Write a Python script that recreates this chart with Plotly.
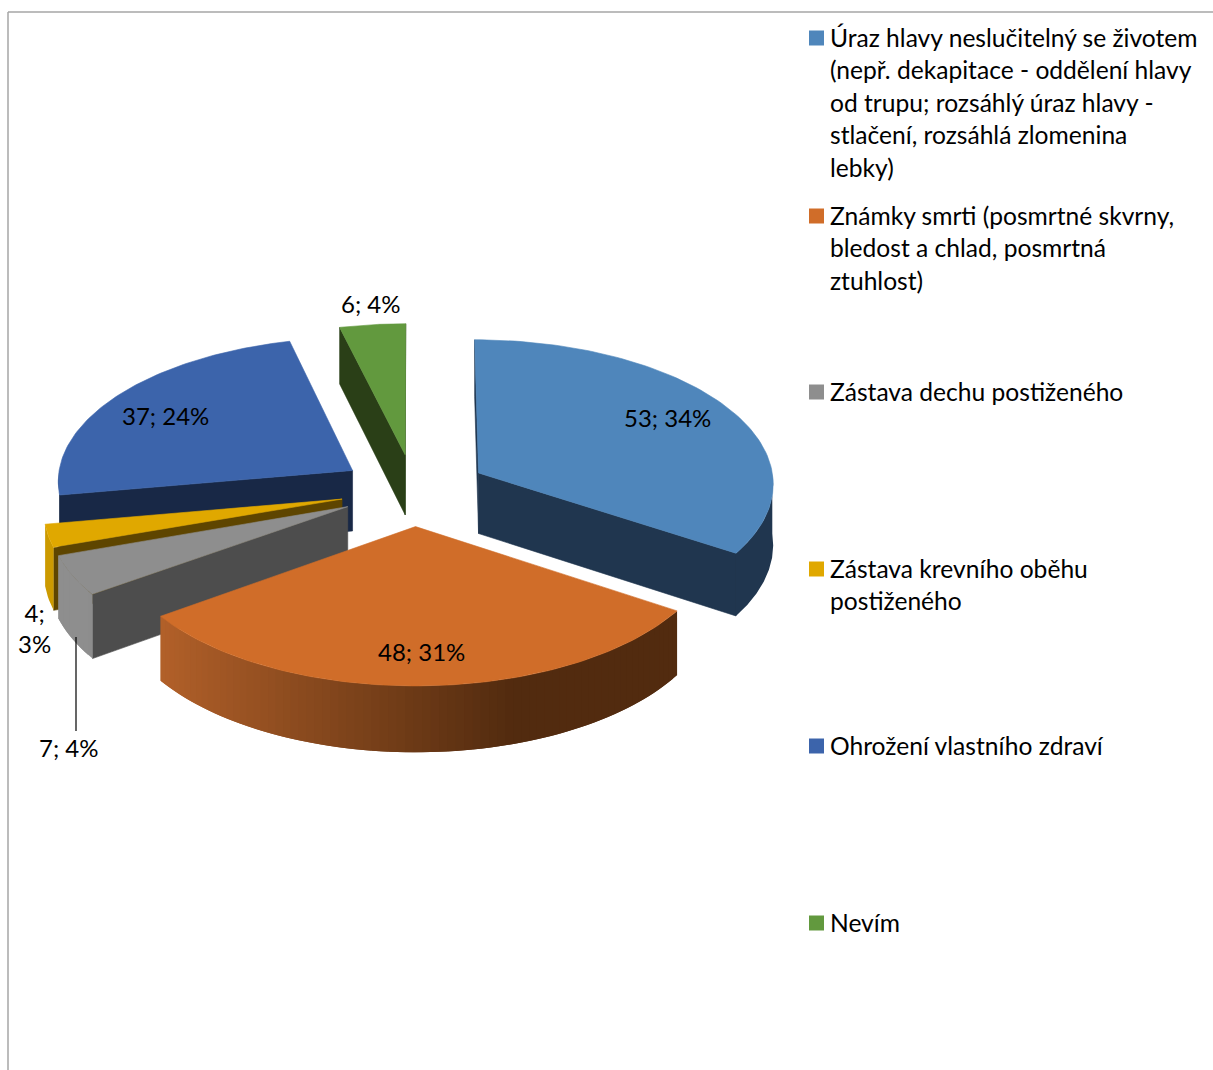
import numpy as np
import plotly.graph_objects as go

# Survey answers, in clockwise order from twelve o'clock
categories = [
    "Úraz hlavy neslučitelný se životem (nepř. dekapitace - oddělení hlavy od trupu; rozsáhlý úraz hlavy - stlačení, rozsáhlá zlomenina lebky)",
    "Známky smrti (posmrtné skvrny, bledost a chlad, posmrtná ztuhlost)",
    "Zástava dechu postiženého",
    "Zástava krevního oběhu postiženého",
    "Ohrožení vlastního zdraví",
    "Nevím",
]
values = [53, 48, 7, 4, 37, 6]
percents = [34, 31, 4, 3, 24, 4]

# Wrapped legend lines
legend_lines = [
    ["Úraz hlavy neslučitelný se životem", "(nepř. dekapitace - oddělení hlavy",
     "od trupu; rozsáhlý úraz hlavy -", "stlačení, rozsáhlá zlomenina", "lebky)"],
    ["Známky smrti (posmrtné skvrny,", "bledost a chlad, posmrtná", "ztuhlost)"],
    ["Zástava dechu postiženého"],
    ["Zástava krevního oběhu", "postiženého"],
    ["Ohrožení vlastního zdraví"],
    ["Nevím"],
]
legend_y = [38, 216, 392, 569, 746, 923]

top_colors = ["#4F86BB", "#D06D29", "#8E8E8E", "#E0A800", "#3C64AB", "#62993E"]
face_colors = ["#20364F", "#522B0F", "#4D4D4D", "#5E4500", "#182846", "#2A3F17"]
rim_left = ["#20364F", "#B5622A", "#8E8E8E", "#CC9A00", "#182846", "#2A3F17"]
rim_right = ["#20364F", "#522B0F", "#787878", "#CC9A00", "#182846", "#2A3F17"]
label_xy = [(667, 417), (421, 651), (69, 747), (34, 628), (165, 415), (371, 303)]

FONT = "Lato, Carlito, Calibri, sans-serif"
LABEL_SIZE = 24
LEGEND_SIZE = 24.6
TEXT = "#000000"

# Pie projection: ground plane (u, v) with v towards the viewer, z downwards
CX, CY = 414.0, 490.0
RX, RY = 296.0, 144.0
PERSP = 0.065
DEPTH = 61.0
EXPLODE = 0.25


def project(u, v, z=0.0):
    s = 1.0 / (1.0 - PERSP * np.asarray(v, dtype=float))
    return CX + RX * np.asarray(u) * s, CY + (RY * np.asarray(v) + DEPTH * z) * s


def direction(deg):
    a = np.radians(deg)
    return np.sin(a), -np.cos(a)


def hex_mix(c1, c2, t):
    a = [int(c1[i:i + 2], 16) for i in (1, 3, 5)]
    b = [int(c2[i:i + 2], 16) for i in (1, 3, 5)]
    return "#%02X%02X%02X" % tuple(round(x + (y - x) * t) for x, y in zip(a, b))


fig = go.Figure()


def polygon(xs, ys, color, width=0.6):
    fig.add_trace(go.Scatter(
        x=list(xs) + [xs[0]], y=list(ys) + [ys[0]], mode="lines", fill="toself",
        fillcolor=color, line=dict(color=color, width=width),
        hoverinfo="skip", showlegend=False,
    ))


def rim_strip(a_from, a_to, ou, ov, color):
    uu, vv = direction(np.linspace(a_from, a_to, 8))
    uu, vv = uu + ou, vv + ov
    x_top, y_top = project(uu, vv, 0.0)
    x_bot, y_bot = project(uu, vv, 1.0)
    polygon(np.concatenate([x_top, x_bot[::-1]]).tolist(),
            np.concatenate([y_top, y_bot[::-1]]).tolist(), color, width=0)


total = sum(values)
edges = np.concatenate([[0.0], np.cumsum(values) / total * 360.0])


def draw_slice(i):
    a0, a1 = edges[i], edges[i + 1]
    du, dv = direction((a0 + a1) / 2)
    ou, ov = EXPLODE * du, EXPLODE * dv
    ang = np.linspace(a0, a1, 90)
    su, sv = direction(ang)
    rim_u, rim_v = ou + su, ov + sv

    # Radial walls that face the viewer
    for edge, normal in ((a0, a0 - 90), (a1, a1 + 90)):
        if direction(normal)[1] >= -0.01:
            eu, ev = direction(edge)
            ends_u = [ou, ou + eu, ou + eu, ou]
            ends_v = [ov, ov + ev, ov + ev, ov]
            ends_z = [0, 0, 1, 1]
            x, y = project(np.array(ends_u), np.array(ends_v), np.array(ends_z))
            polygon(x.tolist(), y.tolist(), face_colors[i])

    # Outer rim: overlapping strips painted in turn so it can carry a shade
    lo, hi = max(a0, 90.0), min(a1, 270.0)
    if hi > lo:
        if rim_left[i] == rim_right[i]:
            rim_strip(lo, hi, ou, ov, rim_left[i])
        else:
            steps = max(3, int((hi - lo) / 1.5))
            grid = np.linspace(lo, hi, steps + 1)
            for j in range(steps):
                g0, g1 = grid[j], grid[min(j + 2, steps)]
                t = np.clip((np.sin(np.radians((grid[j] + grid[j + 1]) / 2)) + 0.85) / 1.15, 0, 1)
                rim_strip(g0, g1, ou, ov, hex_mix(rim_left[i], rim_right[i], t))

    # Top face
    x, y = project(np.concatenate([[ou], rim_u]), np.concatenate([[ov], rim_v]))
    polygon(x.tolist(), y.tolist(), top_colors[i])


for idx in [5, 4, 3, 2, 0, 1]:
    draw_slice(idx)

# Data labels
annotations = []
for v, p, (lx, ly) in zip(values, percents, label_xy):
    text = f"{v}; {p}%" if v != 4 else f"{v};<br>{p}%"
    annotations.append(dict(
        x=lx, y=ly, xref="x", yref="y", text=text, showarrow=False, align="center",
        xanchor="center", yanchor="middle", font=dict(family=FONT, size=LABEL_SIZE, color=TEXT),
    ))

# Legend: swatches and wrapped text
LINE_STEP = 32.5
for y0, lines in zip(legend_y, legend_lines):
    for k, line in enumerate(lines):
        annotations.append(dict(
            x=830, y=y0 - 1 + k * LINE_STEP, xref="x", yref="y", text=line, showarrow=False,
            xanchor="left", yanchor="middle", xshift=-2,
            font=dict(family=FONT, size=LEGEND_SIZE, color=TEXT),
        ))
fig.add_trace(go.Scatter(
    x=[816.5] * len(categories), y=legend_y, mode="markers", text=categories, hoverinfo="text",
    marker=dict(symbol="square", size=15, color=top_colors, line=dict(width=0)),
    showlegend=False,
))

shapes = [
    # Chart frame, cut off by the page on the right and at the bottom
    dict(type="line", x0=8, x1=1213, y0=12, y1=12, xref="x", yref="y",
         line=dict(color="#A6A6A6", width=1.5)),
    dict(type="line", x0=8, x1=8, y0=12, y1=1070, xref="x", yref="y",
         line=dict(color="#A6A6A6", width=1.5)),
    # Leader line of the small grey slice
    dict(type="line", x0=76, x1=76, y0=637, y1=731, xref="x", yref="y",
         line=dict(color="#000000", width=1.2)),
]

fig.update_layout(
    width=1213, height=1070, autosize=False,
    margin=dict(l=0, r=0, t=0, b=0),
    paper_bgcolor="#FFFFFF", plot_bgcolor="#FFFFFF",
    xaxis=dict(range=[0, 1213], visible=False, fixedrange=True),
    yaxis=dict(range=[1070, 0], visible=False, fixedrange=True),
    shapes=shapes, annotations=annotations, showlegend=False,
)

fig.write_html("out.html", config={"displayModeBar": False})
